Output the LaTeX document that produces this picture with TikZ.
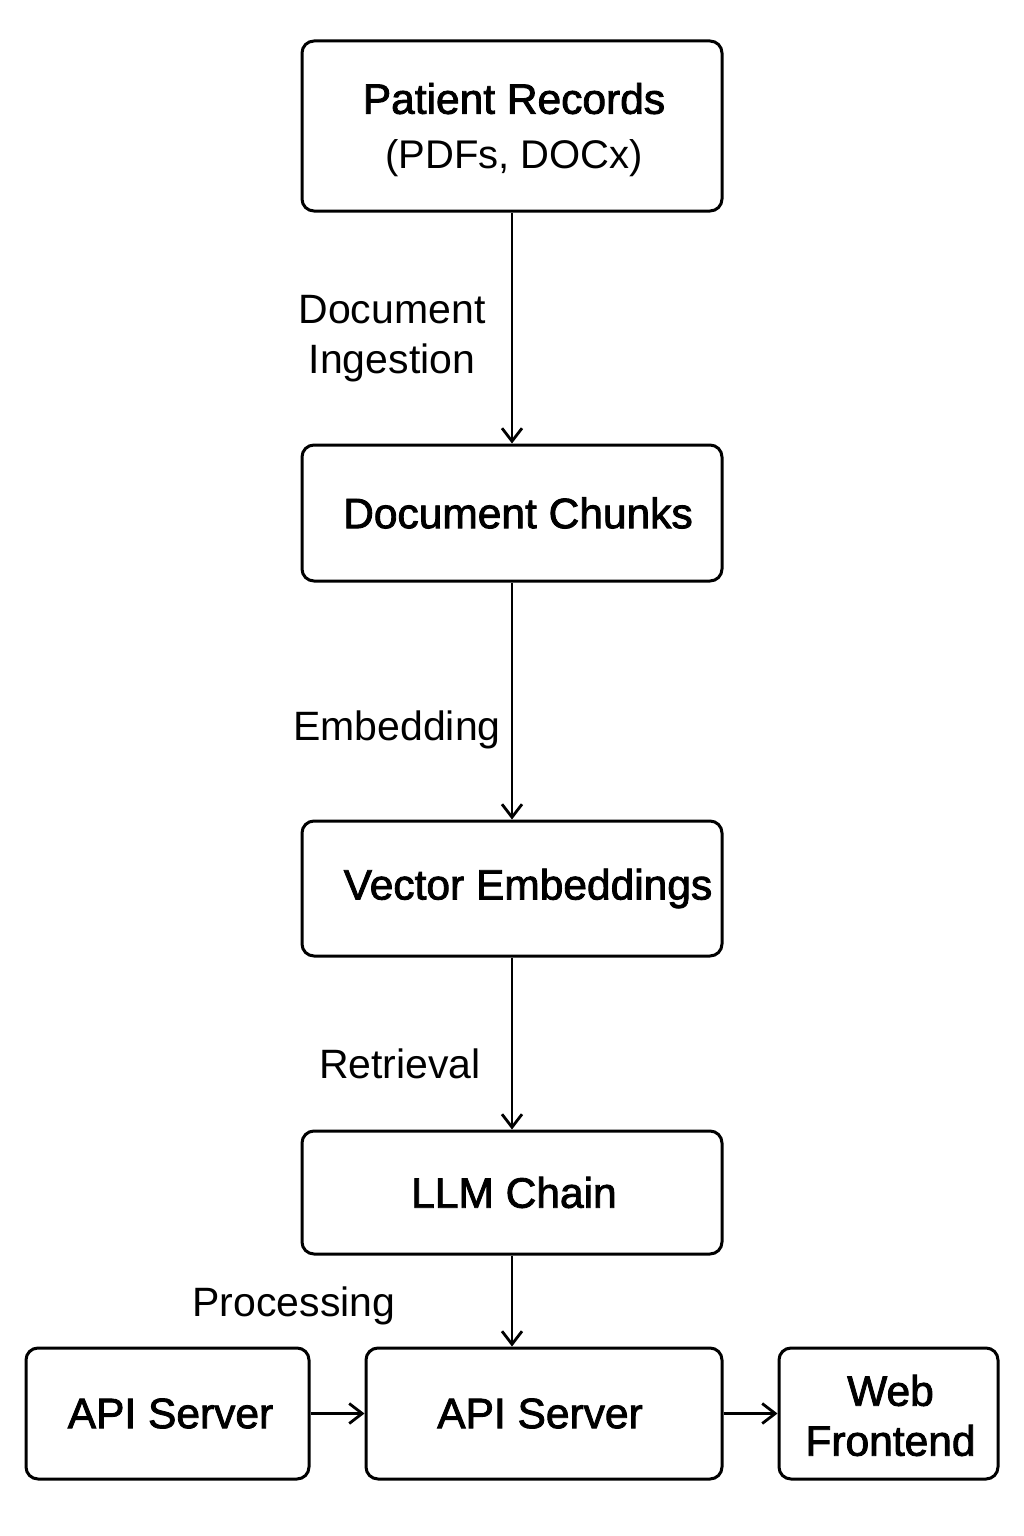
\documentclass[tikz,border=0pt]{standalone}
\usepackage{fontspec}
\setmainfont{Liberation Sans}
\newfontfamily\boxfont{Liberation Sans}[FakeBold=2]
\usetikzlibrary{arrows.meta}
\begin{document}
\begin{tikzpicture}[x=1pt,y=-1pt,
  box/.style={draw, line width=3pt, rounded corners=12pt, inner sep=0pt, fill=white},
  boxtext/.style={font=\boxfont\fontsize{42.5}{55}\selectfont, align=center, inner sep=0pt},
  lbl/.style={font=\fontsize{41}{50}\selectfont, align=center, inner sep=0pt},
  conn/.style={line width=2.8pt, -{Straight Barb[length=13pt,width=20pt,line width=2.8pt]}}
]
\useasboundingbox[fill=white] (0,0) rectangle (1024,1536);
% boxes
\node[box, minimum width=420pt, minimum height=170pt] (b1) at (512,126) {};
\node[boxtext] (t1) at ([xshift=2pt,yshift=-4pt]b1.center) {Patient Records\\\rmfamily\fontsize{40}{55}\selectfont(PDFs, DOCx)};
\node[box, minimum width=420pt, minimum height=136pt] (b2) at (512,513) {};
\node[boxtext] (t2) at ([xshift=6pt]b2.center) {Document Chunks};
\node[box, minimum width=420pt, minimum height=135pt] (b3) at (512,888.5) {};
\node[boxtext] (t3) at ([xshift=16pt]b3.center) {Vector Embeddings};
\node[box, minimum width=420pt, minimum height=123pt] (b4) at (512,1192.5) {};
\node[boxtext] (t4) at ([xshift=2pt]b4.center) {LLM Chain};
\node[box, minimum width=283pt, minimum height=131pt] (b5) at (167.5,1413.5) {};
\node[boxtext] (t5) at ([xshift=3pt]b5.center) {API Server};
\node[box, minimum width=356pt, minimum height=131pt] (b6) at (544,1413.5) {};
\node[boxtext] (t6) at ([xshift=-4pt]b6.center) {API Server};
\node[box, minimum width=219pt, minimum height=131pt] (b7) at (888.5,1413.5) {};
\node[boxtext, font=\boxfont\fontsize{42.5}{50}\selectfont] (t7) at ([xshift=2pt,yshift=-2pt]b7.center) {Web\\Frontend};
% connectors
\draw[conn] (b1.south) -- (b2.north);
\draw[conn] (b2.south) -- (b3.north);
\draw[conn] (b3.south) -- (b4.north);
\draw[conn] (b4.south) -- ([xshift=-32pt]b6.north);
\draw[conn] (b5.east) -- (b6.west);
\draw[conn] (b6.east) -- (b7.west);
% labels
\node[lbl] (l1) at (392,339) {Document\\Ingestion};
\node[lbl] (l2) at (397,730) {Embedding};
\node[lbl] (l3) at (400,1064) {Retrieval};
\node[lbl] (l4) at (294,1306) {Processing};
\end{tikzpicture}
\end{document}
